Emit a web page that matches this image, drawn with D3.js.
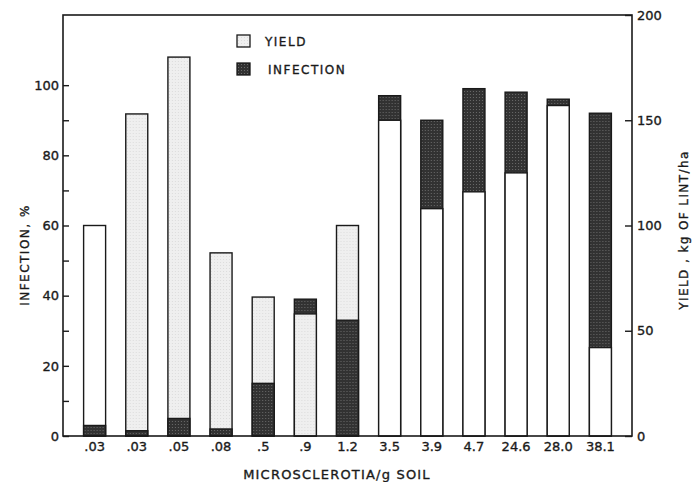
<!DOCTYPE html>
<html>
<head>
<meta charset="utf-8">
<script src="https://cdn.jsdelivr.net/npm/d3@7"></script>
<style>
  html, body { margin: 0; padding: 0; background: #fff; }
  svg text { font-family: "DejaVu Sans", sans-serif; fill: #1a1a1a; stroke: #1a1a1a; stroke-width: 0.35px; }
</style>
</head>
<body>
<div class="chart"></div>
<script>
// microsclerotia per g soil (x categories)
const categories = ['.03', '.03', '.05', '.08', '.5', '.9', '1.2', '3.5', '3.9', '4.7', '24.6', '28.0', '38.1']
// infection, % (left axis)
const infection = [3, 1.5, 5, 2, 15, 39, 33, 97, 90, 99, 98, 96, 92]
// yield, kg of lint / ha (right axis)
const yieldKg = [100, 153, 180, 87, 66, 58, 100, 150, 108, 116, 125, 157, 42]
const infTicks = [0, 10, 20, 30, 40, 50, 60, 70, 80, 90, 100]
const yldTicks = [0, 50, 100, 150, 200]

{
  const width = 700, height = 482
  const left = 63, right = 632, top = 15, bottom = 436

  let svg = d3.select('.chart').append('svg')
    .attr('width', width)
    .attr('height', height)

  // textures for the printed fills
  let defs = svg.append('defs')
  let dark = defs.append('pattern')
    .attr('id', 'dark')
    .attr('width', 3).attr('height', 3)
    .attr('patternUnits', 'userSpaceOnUse')
  dark.append('rect').attr('width', 3).attr('height', 3).style('fill', '#323232')
  dark.append('rect').attr('x', 1).attr('y', 1).attr('width', 1).attr('height', 1).style('fill', '#6a6a6a')
  let light = defs.append('pattern')
    .attr('id', 'light')
    .attr('width', 3).attr('height', 3)
    .attr('patternUnits', 'userSpaceOnUse')
  light.append('rect').attr('width', 3).attr('height', 3).style('fill', '#efefef')
  light.append('rect').attr('x', 1).attr('y', 1).attr('width', 1).attr('height', 1).style('fill', '#dcdcdc')

  let x = d3.scalePoint().domain(d3.range(categories.length)).range([left, right]).padding(0.75)
  let yInf = d3.scaleLinear().domain([0, 120]).range([bottom, top])
  let yYld = d3.scaleLinear().domain([0, 200]).range([bottom, top])
  const barW = 22

  // first bars of the figure were printed stippled, later ones plain white
  let yieldFill = i => (i >= 1 && i <= 6) ? 'url(#light)' : '#fff'

  let rows = categories.map((c, i) => {
    let inf = { kind: 'inf', y: yInf(infection[i]), fill: 'url(#dark)' }
    let yld = { kind: 'yld', y: yYld(yieldKg[i]), fill: yieldFill(i) }
    // taller bar goes behind, shorter one in front
    return { i, parts: inf.y < yld.y ? [inf, yld] : [yld, inf] }
  })

  let groups = svg.selectAll('g.bar').data(rows)
    .enter()
    .append('g')
    .attr('class', 'bar')
    .attr('transform', d => `translate(${x(d.i) - barW / 2},0)`)
  groups.selectAll('rect').data(d => d.parts)
    .enter()
    .append('rect')
    .attr('x', 0)
    .attr('y', d => d.y)
    .attr('width', barW)
    .attr('height', d => bottom - d.y)
    .style('fill', d => d.fill)
    .style('stroke', '#1a1a1a')
    .style('stroke-width', 1.4)

  // frame
  svg.append('rect')
    .attr('x', left).attr('y', top)
    .attr('width', right - left).attr('height', bottom - top)
    .style('fill', 'none')
    .style('stroke', '#1a1a1a')
    .style('stroke-width', 1.6)

  // left axis
  let axL = svg.append('g')
    .attr('transform', `translate(${left},0)`)
    .call(d3.axisLeft(yInf).tickValues(infTicks).tickSize(-6).tickPadding(4)
      .tickFormat(d => d % 20 === 0 ? d : ''))
  axL.select('.domain').remove()
  axL.selectAll('line').style('stroke', '#1a1a1a').style('stroke-width', 1.4)
  axL.selectAll('text').style('font-size', '13px').style('font-family', '"DejaVu Sans", sans-serif').style('fill', '#1a1a1a')

  // right axis
  let axR = svg.append('g')
    .attr('transform', `translate(${right},0)`)
    .call(d3.axisRight(yYld).tickValues(yldTicks).tickSize(-7).tickPadding(5))
  axR.select('.domain').remove()
  axR.selectAll('line').style('stroke', '#1a1a1a').style('stroke-width', 1.4)
  axR.selectAll('text').style('font-size', '13px').style('font-family', '"DejaVu Sans", sans-serif').style('fill', '#1a1a1a')

  // category labels
  svg.selectAll('text.cat').data(categories)
    .enter()
    .append('text')
    .attr('class', 'cat')
    .attr('x', (d, i) => x(i))
    .attr('y', 451)
    .attr('text-anchor', 'middle')
    .style('font-size', '13px')
    .text(d => d)

  // axis titles
  svg.append('text')
    .attr('transform', 'translate(29,255) rotate(-90)')
    .attr('text-anchor', 'middle')
    .style('font-size', '12px')
    .style('letter-spacing', '1.5px')
    .text('INFECTION, %')
  svg.append('text')
    .attr('transform', 'translate(688,230) rotate(-90)')
    .attr('text-anchor', 'middle')
    .style('font-size', '12px')
    .style('letter-spacing', '1.4px')
    .text('YIELD , kg OF LINT/ha')
  svg.append('text')
    .attr('x', 337)
    .attr('y', 479)
    .attr('text-anchor', 'middle')
    .style('font-size', '13px')
    .style('letter-spacing', '1.2px')
    .text('MICROSCLEROTIA/g SOIL')

  // legend
  let legend = [
    { label: 'YIELD', fill: 'url(#light)', y: 35, tx: 265 },
    { label: 'INFECTION', fill: 'url(#dark)', y: 63, tx: 268 }
  ]
  let lg = svg.selectAll('g.legend').data(legend)
    .enter()
    .append('g')
    .attr('class', 'legend')
  lg.append('rect')
    .attr('x', 237).attr('y', d => d.y)
    .attr('width', 13).attr('height', 12)
    .style('fill', d => d.fill)
    .style('stroke', '#1a1a1a')
    .style('stroke-width', 1.3)
  lg.append('text')
    .attr('x', d => d.tx)
    .attr('y', d => d.y + 11)
    .style('font-size', '12px')
    .style('letter-spacing', '1.5px')
    .text(d => d.label)
}
</script>
</body>
</html>
